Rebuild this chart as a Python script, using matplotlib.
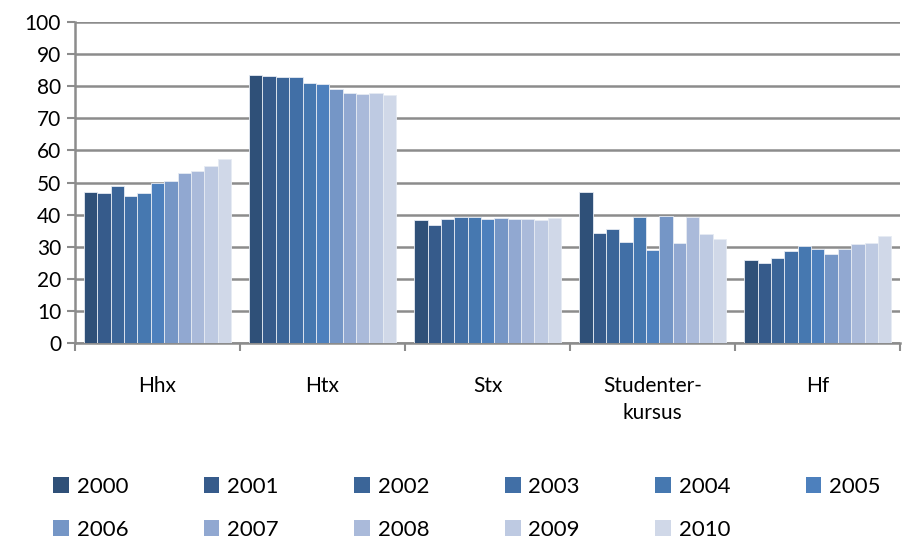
import numpy as np
import matplotlib
matplotlib.use("Agg")
from matplotlib import pyplot as plt

matplotlib.rcParams.update({'font.size': 15, 'font.family': ['Lato', 'DejaVu Sans']})

# ------------------------------ Data -----------------------------------
categories = ['Hhx', 'Htx', 'Stx', 'Studenter-\nkursus', 'Hf']
years = ['2000', '2001', '2002', '2003', '2004', '2005',
         '2006', '2007', '2008', '2009', '2010']

hhx = [47.2, 46.6, 48.8, 45.7, 46.8, 49.9, 50.6, 53.0, 53.5, 55.0, 57.4]
htx = [83.5, 83.1, 82.9, 82.9, 80.9, 80.7, 79.3, 78.0, 77.5, 77.9, 77.3]
stx = [38.2, 36.8, 38.6, 39.3, 39.3, 38.5, 39.0, 38.7, 38.6, 38.3, 38.9]
stud = [47.2, 34.4, 35.5, 31.5, 39.4, 29.1, 39.7, 31.2, 39.1, 34.1, 32.3]
hf = [26.0, 25.0, 26.5, 28.8, 30.2, 29.2, 27.6, 29.4, 30.7, 31.3, 33.2]

colors = ['#2f5078', '#365b8b', '#3b6598', '#416fa6', '#4678b0', '#4d80bd',
          '#7596c6', '#91a8d1', '#aabada', '#becae2', '#d0d8e8']

values = np.array([hhx, htx, stx, stud, hf])

# ------------------------------ Figure ---------------------------------
fig = plt.figure(figsize=(9.03, 5.4), dpi=100)
fig.subplots_adjust(left=0.083, right=0.997, bottom=0.365, top=0.959)
ax = fig.add_subplot(111)

n = len(years)
group = 0.89
w = group / n
x = np.arange(len(categories))
for i, yr in enumerate(years):
    ax.bar(x - group / 2 + w * (i + 0.5), values[:, i], width=w,
           color=colors[i], edgecolor='#e6ebf3', linewidth=0.6,
           label=yr, zorder=3)

ax.set_xlim(-0.5, len(categories) - 0.5)
ax.set_ylim(0, 100)
ax.set_yticks(np.arange(0, 101, 10))
ax.yaxis.grid(True, color='#8c8c8c', linewidth=1.8, zorder=0)
ax.set_axisbelow(True)

# category boundaries as major ticks, names as minor ticks
ax.set_xticks(np.arange(-0.5, len(categories), 1.0))
ax.set_xticklabels([])
ax.set_xticks(x, minor=True)
ax.set_xticklabels(categories, minor=True, linespacing=1.45)
ax.tick_params(axis='x', which='minor', length=0, pad=24)
ax.tick_params(axis='x', which='major', direction='out', length=6,
               width=1.5, color='#8c8c8c')
ax.tick_params(axis='y', direction='out', length=6, width=1.5,
               color='#8c8c8c', pad=4)

for s in ['top', 'right']:
    ax.spines[s].set_visible(False)
for s in ['left', 'bottom']:
    ax.spines[s].set_color('#8c8c8c')
    ax.spines[s].set_linewidth(1.8)

# legend fills column-wise; reorder so it reads row by row
handles, labels = ax.get_legend_handles_labels()
order = [0, 6, 1, 7, 2, 8, 3, 9, 4, 10, 5]
leg = fig.legend([handles[k] for k in order], [labels[k] for k in order],
                 loc='lower left', bbox_to_anchor=(0.037, -0.037), ncol=6,
                 frameon=False, handlelength=0.7, handleheight=0.7,
                 handletextpad=0.35, columnspacing=3.4, labelspacing=1.05,
                 fontsize=16)
for h in leg.legend_handles:
    h.set_edgecolor('none')

fig.savefig('out.png', dpi=100)
